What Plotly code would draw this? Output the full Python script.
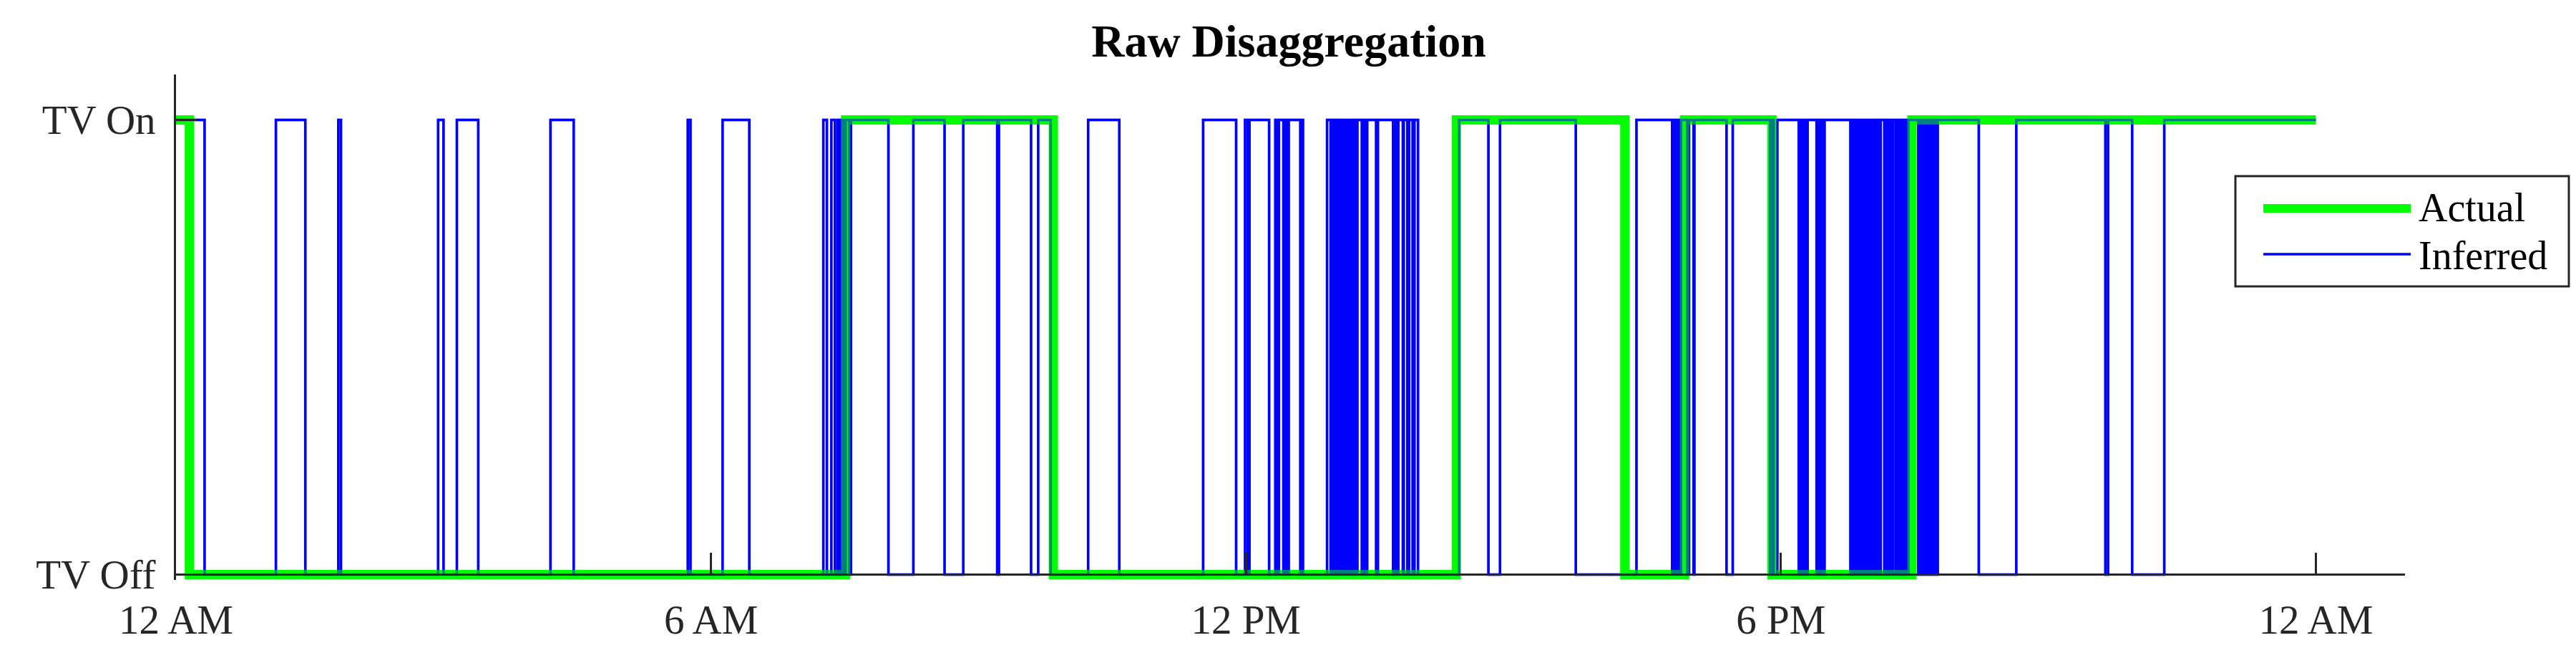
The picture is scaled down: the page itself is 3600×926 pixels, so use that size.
import plotly.graph_objects as go

# time of day in hours, state after each change (1 = on, 0 = off)
actual_t = [0.00, 0.15, 7.51, 9.84, 14.36, 16.25, 16.92, 17.90, 19.47, 24.00]
actual_on = [1, 0, 1, 0, 1, 0, 1, 0, 1, 1]

inferred_t = [
    0.00, 0.32, 1.12, 1.45, 1.82, 1.85, 2.94, 3.00, 3.15, 3.39,
    4.20, 4.46, 5.74, 5.77, 6.13, 6.43,
    7.26, 7.30, 7.35, 7.39, 7.42, 7.44, 7.45, 7.47, 7.48, 7.50, 7.51, 7.55, 7.57,
    7.99, 8.27, 8.62, 8.83, 9.21, 9.23, 9.59, 9.67, 9.81,
    10.23, 10.58, 11.52, 11.89,
    11.99, 12.02, 12.04, 12.26, 12.33, 12.35, 12.37, 12.42, 12.44, 12.46, 12.48,
    12.61, 12.62, 12.64, 12.91, 12.95, 12.97, 12.99,
    13.01, 13.03, 13.05, 13.07, 13.09, 13.11, 13.13, 13.15, 13.17, 13.19, 13.21, 13.23, 13.25,
    13.30, 13.32, 13.34, 13.36, 13.46, 13.48, 13.65, 13.67, 13.69, 13.71,
    13.76, 13.77, 13.81, 13.83, 13.87, 13.89, 13.93,
    14.39, 14.72, 14.85, 15.70, 16.38,
    16.78, 16.80, 16.82, 16.84, 16.86, 16.88, 16.95, 16.97, 17.02, 17.03,
    17.39, 17.46, 17.88, 17.90, 17.92, 17.96,
    18.20, 18.22, 18.24, 18.26, 18.28, 18.30, 18.40, 18.42, 18.44, 18.46, 18.48, 18.49,
    18.78, 18.80, 18.82, 18.84, 18.86, 18.88, 18.90, 18.92, 18.94, 18.96, 18.98,
    19.00, 19.02, 19.04, 19.06, 19.08, 19.10, 19.12, 19.16, 19.18, 19.20, 19.22, 19.24, 19.26,
    19.29, 19.31, 19.33, 19.35, 19.37, 19.39, 19.41, 19.43,
    19.54, 19.56, 19.58, 19.60, 19.62, 19.64, 19.66, 19.68, 19.70, 19.72, 19.74, 19.76,
    20.22, 20.64, 21.64, 21.67, 21.94, 22.30, 24.00,
]
inferred_on = [
    1, 0, 1, 0, 1, 0, 1, 0, 1, 0,
    1, 0, 1, 0, 1, 0,
    1, 0, 1, 0, 1, 0, 1, 0, 1, 0, 1, 0, 1,
    0, 1, 0, 1, 0, 1, 0, 1, 0,
    1, 0, 1, 0,
    1, 0, 1, 0, 1, 0, 1, 0, 1, 0, 1,
    0, 1, 0, 1, 0, 1, 0,
    1, 0, 1, 0, 1, 0, 1, 0, 1, 0, 1, 0, 1,
    0, 1, 0, 1, 0, 1, 0, 1, 0, 1,
    0, 1, 0, 1, 0, 1, 0,
    1, 0, 1, 0, 1,
    0, 1, 0, 1, 0, 1, 0, 1, 0, 1,
    0, 1, 0, 1, 0, 1,
    0, 1, 0, 1, 0, 1, 0, 1, 0, 1, 0, 1,
    0, 1, 0, 1, 0, 1, 0, 1, 0, 1, 0,
    1, 0, 1, 0, 1, 0, 1, 0, 1, 0, 1, 0, 1,
    0, 1, 0, 1, 0, 1, 0, 1,
    0, 1, 0, 1, 0, 1, 0, 1, 0, 1, 0, 1,
    0, 1, 0, 1, 0, 1, 1,
]

tick_hours = [0, 6, 12, 18, 24]
tick_text = ['12 AM', '6 AM', '12 PM', '6 PM', '12 AM']
state_vals = [0, 1]
state_text = ['TV Off', 'TV On']

W, H = 3600, 926
PAGE = 8  # the page body margin shifts the figure by this much
L, T = 246, 104  # plot corner as seen on screen
PW, PH = 3115, 706
Y0, Y1 = -0.012, 1.1
FONT = 'Liberation Serif, Times New Roman, serif'
INK = '#262626'
GREEN = '#00ff00'
BLUE = '#0000ff'


def xp(px):
    return (px - L) / PW


def yp(py):
    return (T + PH - py) / PH


fig = go.Figure()

# opaque blue underneath, so it reads pure blue on white
fig.add_trace(go.Scatter(
    x=inferred_t, y=inferred_on, mode='lines', line_shape='hv',
    line=dict(color=BLUE, width=3.5), showlegend=False, hoverinfo='skip'
))
fig.add_trace(go.Scatter(
    x=actual_t, y=actual_on, mode='lines', line_shape='hv',
    line=dict(color=GREEN, width=13), name='Actual', showlegend=False
))
# half transparent blue on top gives the teal where it crosses green
fig.add_trace(go.Scatter(
    x=inferred_t, y=inferred_on, mode='lines', line_shape='hv',
    line=dict(color='rgba(0,0,255,0.5)', width=3.5), name='Inferred', showlegend=False
))

# legend box drawn by hand (long line samples)
fig.add_shape(type='rect', xref='paper', yref='paper',
              x0=xp(3124), x1=xp(3590), y0=yp(400), y1=yp(246),
              line=dict(color=INK, width=3), fillcolor='white', layer='above')
fig.add_shape(type='line', xref='paper', yref='paper',
              x0=xp(3163), x1=xp(3369), y0=yp(291), y1=yp(291),
              line=dict(color=GREEN, width=12), layer='above')
fig.add_shape(type='line', xref='paper', yref='paper',
              x0=xp(3163), x1=xp(3369), y0=yp(355), y1=yp(355),
              line=dict(color=BLUE, width=3.5), layer='above')
fig.add_annotation(text='Actual', xref='paper', yref='paper', x=xp(3378), y=yp(290),
                   xanchor='left', yanchor='middle', showarrow=False,
                   font=dict(family=FONT, size=56, color='black'))
fig.add_annotation(text='Inferred', xref='paper', yref='paper', x=xp(3378), y=yp(357),
                   xanchor='left', yanchor='middle', showarrow=False,
                   font=dict(family=FONT, size=56, color='black'))

fig.update_layout(
    width=W, height=H,
    margin=dict(l=L - PAGE, r=W - (L - PAGE) - PW, t=T - PAGE, b=H - (T - PAGE) - PH,
                autoexpand=False),
    paper_bgcolor='white', plot_bgcolor='white',
    title=dict(text='<b>Raw Disaggregation</b>', x=xp(1801), xref='paper', xanchor='center',
               y=1 - 49 / H, yanchor='middle',
               font=dict(family=FONT, size=64, color='black')),
    xaxis=dict(range=[0, 25], tickvals=tick_hours, ticktext=tick_text,
               anchor='free', position=(0 - Y0) / (Y1 - Y0), automargin=False,
               showline=True, linecolor=INK, linewidth=3,
               ticks='inside', ticklen=29, tickwidth=3, tickcolor=INK,
               showgrid=False, zeroline=False, ticklabelstandoff=12,
               tickfont=dict(family=FONT, size=57, color=INK)),
    yaxis=dict(range=[Y0, Y1], tickvals=state_vals, ticktext=state_text, automargin=False,
               showline=True, linecolor=INK, linewidth=3,
               ticks='inside', ticklen=29, tickwidth=3, tickcolor=INK,
               showgrid=False, zeroline=False, ticklabelstandoff=14,
               tickfont=dict(family=FONT, size=57, color=INK)),
)

fig.write_html('out.html')
